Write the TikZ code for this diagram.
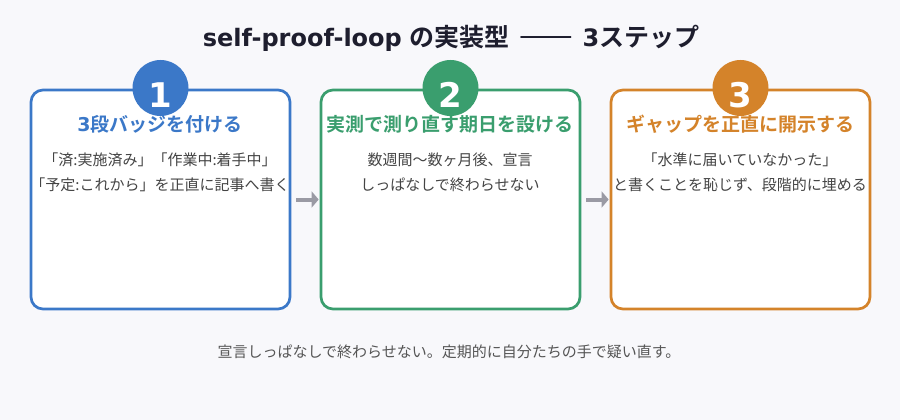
\documentclass[tikz,border=0pt]{standalone}
\usepackage{fontspec}
\setmainfont{Noto Sans CJK JP}[BoldFont={Noto Sans CJK JP Bold}]
\newfontfamily\latinf{DejaVu Sans}
\usetikzlibrary{arrows.meta}
\definecolor{bg}{HTML}{F8F8FB}
\definecolor{cblue}{HTML}{3B78C8}
\definecolor{cgreen}{HTML}{3A9E6E}
\definecolor{corange}{HTML}{D4832A}
\definecolor{ctext}{HTML}{444444}
\definecolor{cfoot}{HTML}{555555}
\definecolor{ctitle}{HTML}{1E1E2E}
\definecolor{carrow}{HTML}{9A9AA4}
\tikzset{
  stepbox/.style={draw=#1, line width=2.7pt, rounded corners=12pt, fill=white, minimum width=259pt, minimum height=219pt, inner sep=0pt},
  numcirc/.style={circle, fill=#1, minimum size=56pt, inner sep=0pt},
  numtxt/.style={text=white, font=\latinf\bfseries\fontsize{34}{34}\selectfont, inner sep=0pt},
  steptitle/.style={text=#1, font=\bfseries\fontsize{19}{21}\selectfont, inner sep=0pt},
  bodytxt/.style={text=ctext, font=\fontsize{15}{17}\selectfont, inner sep=0pt},
  flowarrow/.style={draw=carrow, line width=4pt, -{Triangle[length=7pt,width=16pt]}, shorten <=5pt, shorten >=1pt}
}
\begin{document}
\begin{tikzpicture}[x=1pt,y=-1pt]
\fill[bg] (0,0) rectangle (900,420);
\useasboundingbox (0,0) rectangle (900,420);
\node[text=ctitle, inner sep=0pt] (title) at (451,38) {{\latinf\bfseries\fontsize{24}{26}\selectfont self-proof-loop}\hspace{8pt}{\bfseries\fontsize{25}{26}\selectfont の実装型}\hspace{10pt}{\fontsize{32}{26}\selectfont ——}\hspace{9pt}{\latinf\bfseries\fontsize{24}{26}\selectfont 3}{\bfseries\fontsize{25}{26}\selectfont ステップ}};

\node[stepbox=cblue] (box1) at (160.5,199.5) {};
\node[stepbox=cgreen] (box2) at (450.5,199.5) {};
\node[stepbox=corange] (box3) at (740.5,199.5) {};

\node[steptitle=cblue] (t1) at (160,124) {{\latinf 3}段バッジを付ける};
\node[steptitle=cgreen] (t2) at (450,124) {実測で測り直す期日を設ける};
\node[steptitle=corange] (t3) at (740,124) {ギャップを正直に開示する};

\node[bodytxt] (b1a) at (160,160) {「済:実施済み」「作業中:着手中」};
\node[bodytxt] (b1b) at (160,185) {「予定:これから」を正直に記事へ書く};
\node[bodytxt] (b2a) at (450,160) {数週間〜数ヶ月後、宣言};
\node[bodytxt] (b2b) at (450,185) {しっぱなしで終わらせない};
\node[bodytxt] (b3a) at (740,160) {「水準に届いていなかった」};
\node[bodytxt] (b3b) at (740,185) {と書くことを恥じず、段階的に埋める};

\node[numcirc=cblue] (c1) at (160.5,88) {};
\node[numcirc=cgreen] (c2) at (450.5,88) {};
\node[numcirc=corange] (c3) at (740.5,88) {};
\node[numtxt] (n1) at (160.5,95) {1};
\node[numtxt] (n2) at (450.5,95) {2};
\node[numtxt] (n3) at (740.5,95) {3};

\draw[flowarrow] (box1.east) -- (box2.west);
\draw[flowarrow] (box2.east) -- (box3.west);

\node[text=cfoot, font=\fontsize{15}{17}\selectfont, inner sep=0pt] (foot) at (449,352) {宣言しっぱなしで終わらせない。定期的に自分たちの手で疑い直す。};
\end{tikzpicture}
\end{document}
